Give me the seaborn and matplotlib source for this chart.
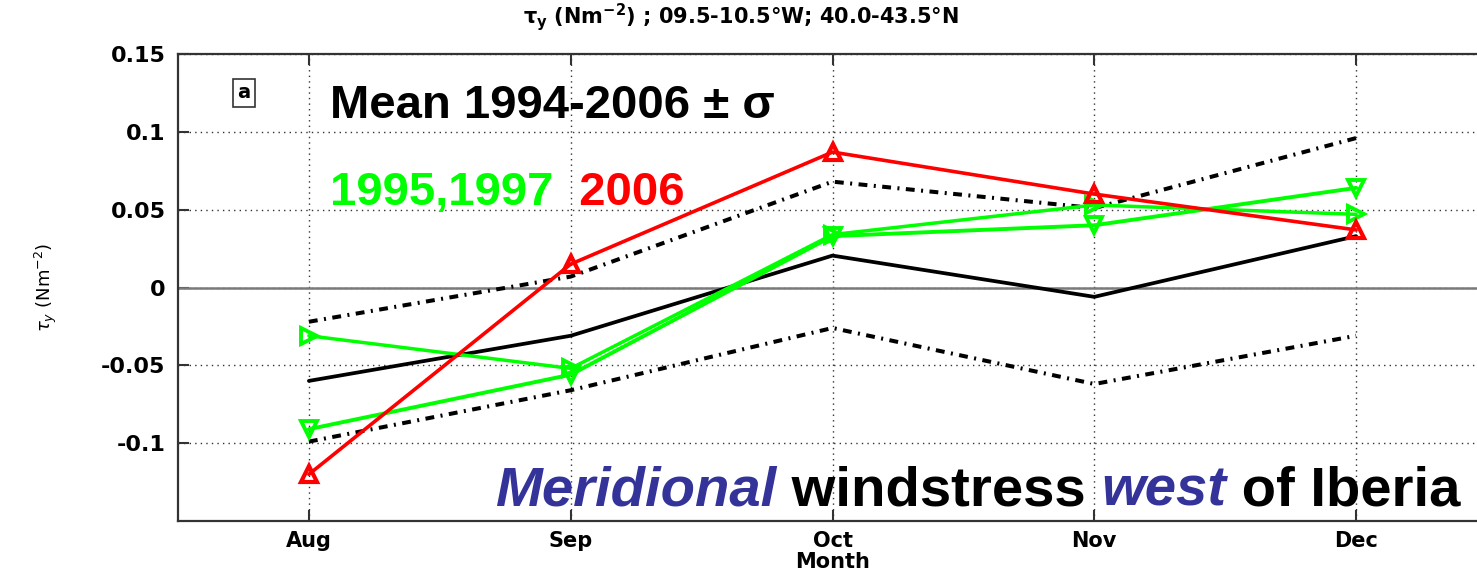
import numpy as np
import pandas as pd
import matplotlib
matplotlib.use("Agg")
import matplotlib.pyplot as plt
import seaborn as sns

months = ["Aug", "Sep", "Oct", "Nov", "Dec"]
month_num = [8, 9, 10, 11, 12]

mean_tau = [-0.060, -0.031, 0.0205, -0.006, 0.033]
mean_plus = [-0.022, 0.007, 0.068, 0.051, 0.096]
mean_minus = [-0.099, -0.066, -0.026, -0.062, -0.031]
tau_2006 = [-0.120, 0.015, 0.087, 0.060, 0.037]
tau_green_a = [-0.031, -0.052, 0.034, 0.053, 0.047]   # right triangles
tau_green_b = [-0.091, -0.056, 0.033, 0.040, 0.064]   # down triangles

ytick_vals = [-0.1, -0.05, 0, 0.05, 0.1, 0.15]
ytick_labels = ["-0.1", "-0.05", "0", "0.05", "0.1", "0.15"]

sns.set_style("white")
plt.rcParams['font.family'] = ['DejaVu Sans']
plt.rcParams['text.color'] = 'black'
plt.rcParams['axes.labelcolor'] = 'black'
plt.rcParams['xtick.color'] = 'black'
plt.rcParams['ytick.color'] = 'black'

fig = plt.figure(figsize=(14.77, 5.74), dpi=100)
# right edge of the box falls just outside the picture
ax = fig.add_axes([178/1477, 53/574, (1487-178)/1477, (521-54)/574])

df = pd.DataFrame({"month": month_num, "mean": mean_tau, "plus": mean_plus,
                   "minus": mean_minus, "y2006": tau_2006,
                   "ga": tau_green_a, "gb": tau_green_b})

ax.axhline(0, color="#7a7a7a", lw=1.8, zorder=1)

dd = (0, (2.2, 1.6, 0.5, 1.6))
sns.lineplot(data=df, x="month", y="plus", ax=ax, color="black", lw=2.9, linestyle=dd)
sns.lineplot(data=df, x="month", y="minus", ax=ax, color="black", lw=2.9, linestyle=dd)
sns.lineplot(data=df, x="month", y="mean", ax=ax, color="black", lw=2.7)

green = "#00ff00"
sns.lineplot(data=df, x="month", y="ga", ax=ax, color=green, lw=2.5,
             marker=">", markersize=11, markerfacecolor="none",
             markeredgecolor=green, markeredgewidth=2.8)
sns.lineplot(data=df, x="month", y="gb", ax=ax, color=green, lw=2.8,
             marker="v", markersize=11, markerfacecolor="none",
             markeredgecolor=green, markeredgewidth=2.8)
sns.lineplot(data=df, x="month", y="y2006", ax=ax, color="#ff0000", lw=2.6,
             marker="^", markersize=11, markerfacecolor="none",
             markeredgecolor="#ff0000", markeredgewidth=3.0)

ax.set_xlim(7.5, 12.5)
ax.set_ylim(-0.15, 0.15)
ax.set_xticks(month_num)
ax.set_xticklabels(months, fontsize=15, fontweight="bold")
ax.set_yticks(ytick_vals)
ax.set_yticklabels(ytick_labels, fontsize=16, fontweight="bold")
ax.grid(True, linestyle=(0, (1, 3)), color="#333333", lw=1.0)
ax.tick_params(direction="in", length=8, width=1.5, top=True, bottom=True,
               left=True, right=False, color="#333333", pad=9)
ax.tick_params(axis="x", pad=7)
for s in ax.spines.values():
    s.set_color("#333333")
    s.set_linewidth(1.6)

ax.set_xlabel("Month", fontsize=15, fontweight="bold", labelpad=1)
ax.set_ylabel(r"$\tau_y$ (Nm$^{-2}$)", fontsize=13, labelpad=30)

fig.text(741/1477, 1 - 17/574,
         r"$\mathregular{\tau_y}$ (Nm$^{\mathbf{-2}}$) ; 09.5-10.5°W; 40.0-43.5°N",
         ha="center", va="center", fontsize=15, fontweight="bold")

fig.text(244/1477, 1 - 93/574, "a", ha="center", va="center", fontsize=14,
         fontweight="bold",
         bbox=dict(boxstyle="square,pad=0.25", fc="white", ec="#333333", lw=1.2))

big = ["Liberation Sans", "DejaVu Sans"]
fig.text(330/1477, 1 - 118/574, "Mean 1994-2006 ± σ", fontsize=34,
         fontweight="bold", family=big, va="baseline")
t1 = fig.text(330/1477, 1 - 205/574, "1995,1997", fontsize=34,
              fontweight="bold", family=big, color=green, va="baseline")
ax.annotate("  2006", xy=(1, 0), xycoords=t1, va="bottom", ha="left",
            fontsize=34, fontweight="bold", family=big, color="#ff0000")

blue = "#333399"
p = fig.text(495/1477, 1 - 505/574, "Meridional", fontsize=40.5, fontweight="bold",
             fontstyle="italic", family=big, color=blue, va="baseline")
for word, col, sty in [(" windstress ", "black", "normal"), ("west", blue, "italic"),
                       (" of Iberia", "black", "normal")]:
    p = ax.annotate(word, xy=(1, 0), xycoords=p, va="bottom", ha="left",
                    fontsize=40.5, fontweight="bold", fontstyle=sty, family=big,
                    color=col)

fig.savefig("out.png", dpi=100)
